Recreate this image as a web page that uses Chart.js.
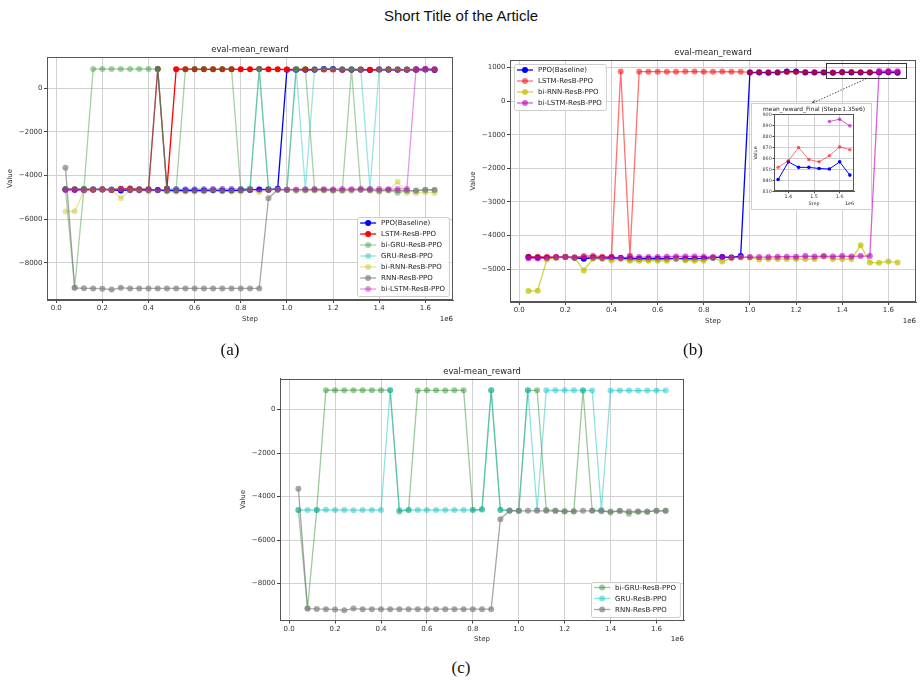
<!DOCTYPE html>
<html>
<head>
<meta charset="utf-8">
<script src="https://cdn.jsdelivr.net/npm/chart.js@4.4.0/dist/chart.umd.min.js"></script>
<style>
  body { margin: 0; background: #fff; width: 923px; height: 682px; position: relative; overflow: hidden; }
  canvas { position: absolute; }
  .txt { position: absolute; transform: translate(-50%, -50%); white-space: nowrap; color: #111; }
  .cap { font-family: "Liberation Serif", serif; font-size: 17px; }
  #inset { position: absolute; left: 751px; top: 103px; width: 119px; height: 105px; background: #fff; border: 1px solid #cfcfcf; }
  #inset canvas { left: 0; top: 0; }
</style>
</head>
<body>
<div class="txt" style="left:461px;top:15px;font-family:'Liberation Sans',sans-serif;font-size:15px;">Short Title of the Article</div>

<canvas id="chartA" width="462" height="296" style="left:0;top:40px"></canvas>
<canvas id="chartB" width="460" height="296" style="left:463px;top:40px"></canvas>
<canvas id="chartC" width="460" height="295" style="left:233px;top:358px"></canvas>
<div id="inset"><canvas id="chartInset" width="119" height="105"></canvas></div>

<div class="txt cap" style="left:230px;top:350px">(a)</div>
<div class="txt cap" style="left:693px;top:350px">(b)</div>
<div class="txt cap" style="left:461px;top:668px">(c)</div>

<script>
// steps in units of 1e6
var steps = [0.04, 0.08, 0.12, 0.16, 0.20, 0.24, 0.28, 0.32, 0.36, 0.40,
             0.44, 0.48, 0.52, 0.56, 0.60, 0.64, 0.68, 0.72, 0.76, 0.80,
             0.84, 0.88, 0.92, 0.96, 1.00, 1.04, 1.08, 1.12, 1.16, 1.20,
             1.24, 1.28, 1.32, 1.36, 1.40, 1.44, 1.48, 1.52, 1.56, 1.60,
             1.64];

var ppo = [-4640, -4650, -4660, -4650, -4640, -4660, -4690, -4660, -4670, -4660,
           -4670, -4690, -4690, -4690, -4690, -4690, -4680, -4690, -4690, -4680,
           -4660, -4640, -4650, -4610, 848, 849, 846, 848, 882, 880,
           853, 850, 852, 841, 857, 852, 852, 851, 850.5, 857,
           845];
var lstm = [-4630, -4630, -4630, -4640, -4630, -4650, -4610, -4600, -4630, -4630,
            884, -4600, 875, 876, 877, 870, 872, 878, 879, 872,
            870, 880, 873, 870, 862, 865, 863, 860, 868, 866,
            866, 862, 860, 852, 858, 870, 859, 857, 862.5, 870.5,
            868];
var biGru = [-4620, -9150, -4620, 885, 888, 880, 886, 884, 886, 886,
             882, -4690, -4620, 870, 882, 880, 878, 880, 884, -4620,
             -4590, 880, -4620, -4640, -4660, 880, 882, -4620, -4640, -4690,
             -4690, 878, -4640, -4640, -4730, -4660, -4790, -4700, -4710, -4650,
             -4660];
var gru = [-4620, -4620, -4620, -4610, -4620, -4620, -4630, -4620, -4620, -4620,
           882, -4620, -4620, -4620, -4620, -4620, -4620, -4620, -4620, -4620,
           -4610, 880, -4610, -4640, -4650, 880, -4620, 880, 882, 882,
           880, 880, 878, -4620, 878, 874, 874, 872, 870, 874,
           870];
var biRnn = [-5650, -5640, -4710, -4660, -4640, -4660, -5040, -4690, -4700, -4740,
             -4700, -4750, -4750, -4750, -4750, -4750, -4690, -4740, -4750, -4750,
             -4660, -4770, -4670, -4650, -4650, -4710, -4700, -4700, -4700, -4700,
             -4700, -4700, -4620, -4700, -4700, -4700, -4290, -4800, -4810, -4770,
             -4800];
var rnn = [-3640, -9150, -9170, -9180, -9190, -9230, -9150, -9180, -9180, -9180,
           -9180, -9180, -9180, -9180, -9180, -9180, -9180, -9180, -9180, -9180,
           -9180, -9180, -5040, -4650, -4660, -4660, -4660, -4660, -4670, -4680,
           -4680, -4660, -4660, -4680, -4690, -4670, -4690, -4690, -4690, -4660,
           -4660];
var biLstm = [-4680, -4680, -4660, -4640, -4640, -4650, -4640, -4640, -4650, -4640,
              -4660, -4640, -4640, -4640, -4640, -4630, -4620, -4620, -4620, -4630,
              -4640, -4640, -4650, -4640, -4640, -4640, -4640, -4630, -4630, -4630,
              -4610, -4620, -4610, -4620, -4610, -4620, -4610, -4610, 893.5, 895.5,
              889.5];

var yTicksMain = [-8000, -6000, -4000, -2000, 0];
var yTicksB = [-5000, -4000, -3000, -2000, -1000, 0, 1000];

var SERIES = {
    ppo:    { label: 'PPO(Baseline)',    data: ppo,    rgb: '0,0,255' },
    lstm:   { label: 'LSTM-ResB-PPO',    data: lstm,   rgb: '255,0,0' },
    biGru:  { label: 'bi-GRU-ResB-PPO',  data: biGru,  rgb: '34,139,34' },
    gru:    { label: 'GRU-ResB-PPO',     data: gru,    rgb: '0,191,191' },
    biRnn:  { label: 'bi-RNN-ResB-PPO',  data: biRnn,  rgb: '191,191,0' },
    rnn:    { label: 'RNN-ResB-PPO',     data: rnn,    rgb: '128,128,128' },
    biLstm: { label: 'bi-LSTM-ResB-PPO', data: biLstm, rgb: '191,0,191' }
};

var FAM = '"DejaVu Sans", sans-serif';
Chart.defaults.font.family = FAM;
Chart.defaults.color = '#333';

function minusFmt(v) { return v < 0 ? '\u2212' + Math.abs(v) : String(v); }

// list: [key, alpha]; keep = optional filter on (x, y)
function buildDatasets(list, radius, width, keep) {
    return list.map(function(item, i) {
        var s = SERIES[item[0]];
        var col = 'rgba(' + s.rgb + ',' + item[1] + ')';
        var pts = steps.map(function(x, j) {
            var y = s.data[j];
            if (keep && !keep(x, y)) y = null;
            return { x: x, y: y };
        });
        if (keep) pts = pts.filter(function(p) { return p.x >= 1.35; });
        return {
            label: s.label, data: pts,
            borderColor: col, backgroundColor: col,
            pointBackgroundColor: col, pointBorderColor: col, pointBorderWidth: 0,
            pointRadius: radius, borderWidth: width, tension: 0, spanGaps: false,
            order: list.length - i
        };
    });
}

// spines, title, offset text, legend box, zoom box
var framePlugin = {
    id: 'frame',
    afterDraw: function(chart, args, o) {
        var ctx = chart.ctx, a = chart.chartArea;
        ctx.save();
        ctx.strokeStyle = '#555';
        ctx.lineWidth = 1;
        ctx.strokeRect(Math.round(a.left) + 0.5, Math.round(a.top) + 0.5,
                       Math.round(a.right - a.left) - 1, Math.round(a.bottom - a.top) - 1);

        ctx.fillStyle = '#222';
        ctx.textAlign = 'center';
        ctx.textBaseline = 'middle';
        ctx.font = o.titleSize + 'px ' + FAM;
        ctx.fillText(o.title, (a.left + a.right) / 2, a.top - o.titleGap);
        ctx.font = o.offsetSize + 'px ' + FAM;
        ctx.textAlign = 'right';
        ctx.fillText('1e6', a.right, a.bottom + o.offsetY);

        if (o.zoom) {
            var xs = chart.scales.x, ys = chart.scales.y, z = o.zoom;
            var x0 = xs.getPixelForValue(z.x0), x1 = xs.getPixelForValue(z.x1);
            var y0 = ys.getPixelForValue(z.y1), y1 = ys.getPixelForValue(z.y0);
            ctx.strokeStyle = '#333';
            ctx.strokeRect(Math.round(x0) + 0.5, Math.round(y0) + 0.5, Math.round(x1 - x0), Math.round(y1 - y0));
            var ax = xs.getPixelForValue(z.from[0]), ay = ys.getPixelForValue(z.from[1]);
            var bx = xs.getPixelForValue(z.to[0]), by = ys.getPixelForValue(z.to[1]);
            ctx.strokeStyle = '#222';
            ctx.lineWidth = 0.8;
            ctx.setLineDash([1.5, 1.5]);
            ctx.beginPath(); ctx.moveTo(ax, ay); ctx.lineTo(bx, by); ctx.stroke();
            ctx.setLineDash([]);
            var ang = Math.atan2(by - ay, bx - ax), L = 4.5;
            ctx.beginPath();
            ctx.moveTo(bx - L * Math.cos(ang - 0.45), by - L * Math.sin(ang - 0.45));
            ctx.lineTo(bx, by);
            ctx.lineTo(bx - L * Math.cos(ang + 0.45), by - L * Math.sin(ang + 0.45));
            ctx.stroke();
        }

        if (o.legend) {
            var lg = o.legend, dss = chart.data.datasets;
            ctx.font = lg.size + 'px ' + FAM;
            var tw = Math.max.apply(null, dss.map(function(d) { return ctx.measureText(d.label).width; }));
            var w = 3 + 16 + 5 + tw + 4;
            var h = 11 * (dss.length - 1) + 13;
            var bx0 = lg.corner[1] === 'r' ? a.right - 4 - w : a.left + 4;
            var by0 = lg.corner[0] === 'b' ? a.bottom - 4 - h : a.top + 4;
            ctx.fillStyle = 'rgba(255,255,255,0.85)';
            ctx.strokeStyle = '#cccccc';
            ctx.lineWidth = 1;
            ctx.beginPath();
            if (ctx.roundRect) ctx.roundRect(Math.round(bx0) + 0.5, Math.round(by0) + 0.5, w, h, 2);
            else ctx.rect(Math.round(bx0) + 0.5, Math.round(by0) + 0.5, w, h);
            ctx.fill(); ctx.stroke();
            dss.forEach(function(d, i) {
                var cy = by0 + 6 + i * 11, hx = bx0 + 3;
                ctx.strokeStyle = d.borderColor;
                ctx.lineWidth = d.borderWidth;
                ctx.beginPath(); ctx.moveTo(hx, cy); ctx.lineTo(hx + 16, cy); ctx.stroke();
                ctx.fillStyle = d.pointBackgroundColor;
                ctx.beginPath(); ctx.arc(hx + 8, cy, d.pointRadius, 0, 2 * Math.PI); ctx.fill();
                ctx.fillStyle = '#222';
                ctx.textAlign = 'left';
                ctx.textBaseline = 'middle';
                ctx.fillText(d.label, hx + 21, cy + 0.5);
            });
        }
        ctx.restore();
    }
};

function mainChart(id, cfg) {
    return new Chart(document.getElementById(id), {
        type: 'line',
        data: { datasets: buildDatasets(cfg.series, 3, 1.3) },
        options: {
            responsive: false, animation: false, devicePixelRatio: 1,
            layout: { padding: cfg.pad },
            plugins: {
                legend: { display: false },
                tooltip: { enabled: false },
                frame: {
                    title: 'eval-mean_reward', titleSize: 8.4, titleGap: 7,
                    offsetSize: 7, offsetY: 19,
                    legend: { corner: cfg.legend, size: 7 },
                    zoom: cfg.zoom
                }
            },
            scales: {
                x: {
                    type: 'linear', min: -0.04, max: 1.72,
                    ticks: { stepSize: 0.2, includeBounds: false, autoSkip: false, maxRotation: 0,
                             padding: 1, font: { size: 7 }, color: '#333',
                             callback: function(v) { return v.toFixed(1); } },
                    grid: { color: '#d2d2d2', tickLength: 3, tickColor: '#444' },
                    border: { color: '#555' },
                    title: { display: true, text: 'Step', font: { size: 7 }, color: '#333',
                             padding: { top: 0, bottom: 4.8 } },
                    afterFit: function(s) { s.height = 28; }
                },
                y: {
                    type: 'linear', min: cfg.ymin, max: cfg.ymax,
                    afterBuildTicks: function(s) { s.ticks = cfg.yticks.map(function(v) { return { value: v }; }); },
                    ticks: { padding: 1.5, font: { size: 7 }, color: '#333', callback: minusFmt },
                    grid: { color: '#d2d2d2', tickLength: 3, tickColor: '#444' },
                    border: { color: '#555' },
                    title: { display: true, text: 'Value', font: { size: 7 }, color: '#333',
                             padding: { top: 5.8, bottom: 0 } },
                    afterFit: function(s) { s.width = 47; }
                }
            }
        },
        plugins: [framePlugin]
    });
}

// (a) plot area 47..453 x 57..300
mainChart('chartA', {
    series: [['ppo', 1], ['lstm', 1], ['biGru', 0.4], ['gru', 0.4], ['biRnn', 0.4], ['rnn', 0.7], ['biLstm', 0.4]],
    pad: { left: 0, top: 17, right: 9, bottom: 8 },
    ymin: -9710, ymax: 1436, yticks: yTicksMain, legend: 'br'
});

// (b) plot area 510..916 x 60..302
mainChart('chartB', {
    series: [['ppo', 1], ['lstm', 0.55], ['biRnn', 0.7], ['biLstm', 0.62]],
    pad: { left: 0, top: 20, right: 7, bottom: 6 },
    ymin: -5977, ymax: 1223, yticks: yTicksB, legend: 'tl',
    zoom: { x0: 1.33, x1: 1.675, y0: 670, y1: 1120, from: [1.505, 670], to: [1.269, -66] }
});

// (c) plot area 280..684 x 378.5..620.5
mainChart('chartC', {
    series: [['biGru', 0.45], ['gru', 0.45], ['rnn', 0.7]],
    pad: { left: 0, top: 20.5, right: 9, bottom: 4.5 },
    ymin: -9700, ymax: 1425, yticks: yTicksMain, legend: 'br'
});

// inset of (b): final steps, reward above 0 only
new Chart(document.getElementById('chartInset'), {
    type: 'line',
    data: { datasets: buildDatasets([['ppo', 1], ['lstm', 0.55], ['biLstm', 0.62]], 1.8, 1,
                                    function(x, y) { return x >= 1.35 && y > 0; }) },
    options: {
        responsive: false, animation: false, devicePixelRatio: 1,
        layout: { padding: { left: 0, top: 10.3, right: 17, bottom: 2.3 } },
        plugins: {
            legend: { display: false },
            tooltip: { enabled: false },
            frame: { title: 'mean_reward_Final (Step\u22651.35e6)', titleSize: 5.9, titleGap: 5,
                     offsetSize: 4.8, offsetY: 12.3 }
        },
        scales: {
            x: {
                type: 'linear', min: 1.344, max: 1.656,
                ticks: { stepSize: 0.1, includeBounds: false, autoSkip: false, maxRotation: 0,
                         padding: 0.5, font: { size: 4.8 }, color: '#333',
                         callback: function(v) { return v.toFixed(1); } },
                grid: { color: '#d2d2d2', tickLength: 1.5, tickColor: '#444' },
                border: { color: '#555' },
                title: { display: true, text: 'Step', font: { size: 4.8 }, color: '#333',
                         padding: { top: 0, bottom: 0 } },
                afterFit: function(s) { s.height = 15; }
            },
            y: {
                type: 'linear', min: 830, max: 900,
                ticks: { stepSize: 10, padding: 0.8, font: { size: 4.8 }, color: '#333' },
                grid: { color: '#d2d2d2', tickLength: 1.5, tickColor: '#444' },
                border: { color: '#555' },
                title: { display: true, text: 'Value', font: { size: 4.8 }, color: '#333',
                         padding: { top: 0.8, bottom: 0 } },
                afterFit: function(s) { s.width = 22; }
            }
        }
    },
    plugins: [framePlugin]
});
</script>
</body>
</html>
